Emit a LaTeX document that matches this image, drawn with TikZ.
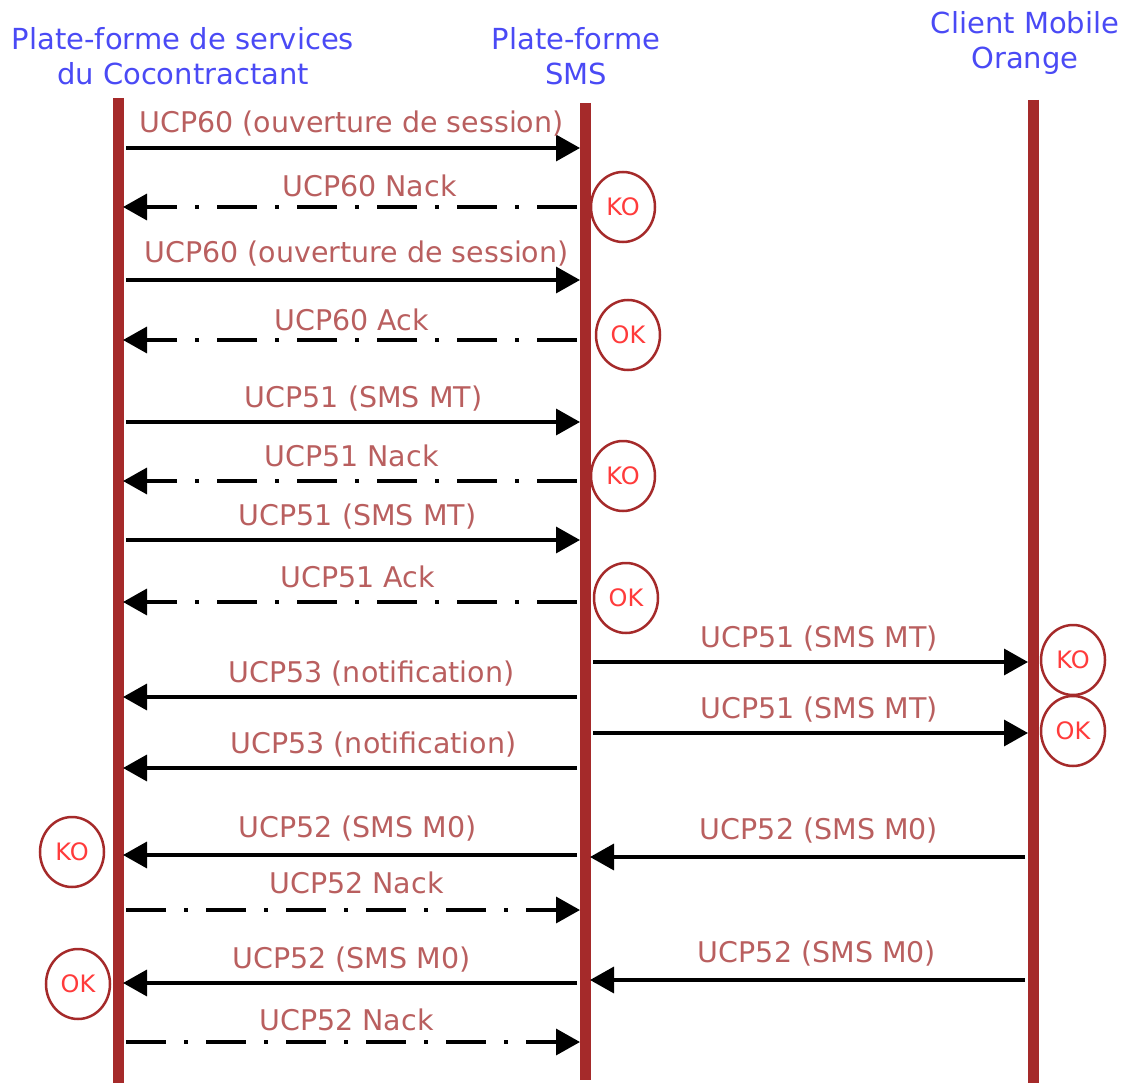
\documentclass[tikz,border=0pt]{standalone}
\usepackage{fontspec}
\setmainfont{DejaVu Sans}
\usetikzlibrary{arrows.meta,shapes.geometric}
\definecolor{lifered}{HTML}{A52A2A}
\definecolor{lblred}{HTML}{B95F5F}
\definecolor{ttlblue}{HTML}{4A4AF5}
\definecolor{etatred}{HTML}{FF3B3B}

\begin{document}
\begin{tikzpicture}[
  x=1pt, y=-1pt,
  font=\fontsize{28.5}{33}\selectfont,
  actor/.style={align=center, text=ttlblue, font=\fontsize{29}{35}\selectfont},
  life/.style={lifered, line width=11pt},
  msg/.style={-{Triangle[length=24pt,width=26pt]}, line width=3.5pt, shorten >=5pt, shorten <=8pt},
  ret/.style={msg, dash pattern=on 40pt off 18pt on 4pt off 18pt},
  lbl/.style={anchor=base, yshift=15pt, text=lblred, inner sep=0pt},
  etat/.style={ellipse, draw=lifered, line width=2.5pt, text=etatred, fill=white,
    minimum width=64pt, minimum height=70pt, inner sep=0pt, font=\fontsize{24}{24}\selectfont}
]
\useasboundingbox (0,0) rectangle (1124,1083);
\node[actor] (pf) at (183,56) {Plate-forme de services\\du Cocontractant};
\node[actor] (sms) at (576,56) {Plate-forme\\SMS};
\node[actor] (cli) at (1025,43) {Client Mobile\\Orange};
\coordinate (pfH) at (118,98);   \coordinate (pfB) at (118,1083);
\coordinate (smsH) at (585,103); \coordinate (smsB) at (585,1080);
\coordinate (cliH) at (1033,100); \coordinate (cliB) at (1033,1083);
\draw[life] (pfH) -- (pfB); \draw[life] (smsH) -- (smsB); \draw[life] (cliH) -- (cliB);
% ouverture de session
\draw[msg] (pfH |- 0,148) -- node[lbl]{UCP60 (ouverture de session)} (smsH |- 0,148);
\draw[ret] (smsH |- 0,207) -- node[lbl,yshift=-5pt,xshift=18pt]{UCP60 Nack} (pfH |- 0,207);
\draw[msg] (pfH |- 0,280) -- node[lbl,yshift=3pt,xshift=5pt]{UCP60 (ouverture de session)} (smsH |- 0,280);
\draw[ret] (smsH |- 0,340) -- node[lbl,yshift=-5pt]{UCP60 Ack} (pfH |- 0,340);
% SMS MT
\draw[msg] (pfH |- 0,422) -- node[lbl,xshift=12pt]{UCP51 (SMS MT)} (smsH |- 0,422);
\draw[ret] (smsH |- 0,481) -- node[lbl]{UCP51 Nack} (pfH |- 0,481);
\draw[msg] (pfH |- 0,540) -- node[lbl,xshift=6pt]{UCP51 (SMS MT)} (smsH |- 0,540);
\draw[ret] (smsH |- 0,602) -- node[lbl,xshift=6pt]{UCP51 Ack} (pfH |- 0,602);
\draw[msg] (smsH |- 0,662) -- node[lbl,xshift=10pt]{UCP51 (SMS MT)} (cliH |- 0,662);
\draw[msg] (smsH |- 0,697) -- node[lbl,xshift=20pt]{UCP53 (notification)} (pfH |- 0,697);
\draw[msg] (smsH |- 0,733) -- node[lbl,xshift=10pt]{UCP51 (SMS MT)} (cliH |- 0,733);
\draw[msg] (smsH |- 0,768) -- node[lbl,xshift=22pt]{UCP53 (notification)} (pfH |- 0,768);
% SMS MO
\draw[msg] (smsH |- 0,855) -- node[lbl,yshift=3pt,xshift=6pt]{UCP52 (SMS M0)} (pfH |- 0,855);
\draw[msg] (cliH |- 0,857) -- node[lbl,yshift=3pt,xshift=10pt]{UCP52 (SMS M0)} (smsH |- 0,857);
\draw[ret] (pfH |- 0,910) -- node[lbl,yshift=2pt,xshift=5pt]{UCP52 Nack} (smsH |- 0,910);
\draw[msg] (smsH |- 0,983) -- node[lbl]{UCP52 (SMS M0)} (pfH |- 0,983);
\draw[msg] (cliH |- 0,980) -- node[lbl,yshift=3pt,xshift=8pt]{UCP52 (SMS M0)} (smsH |- 0,980);
\draw[ret] (pfH |- 0,1042) -- node[lbl,yshift=-3pt,xshift=-5pt]{UCP52 Nack} (smsH |- 0,1042);
% etats
\node[etat] (ko1) at (623,207) {KO};
\node[etat] (ok1) at (628,335) {OK};
\node[etat] (ko2) at (623,476) {KO};
\node[etat] (ok2) at (626,598) {OK};
\node[etat] (ko3) at (1073,660) {KO};
\node[etat] (ok3) at (1073,731) {OK};
\node[etat] (ko4) at (72,852) {KO};
\node[etat] (ok4) at (78,984) {OK};
\end{tikzpicture}
\end{document}
